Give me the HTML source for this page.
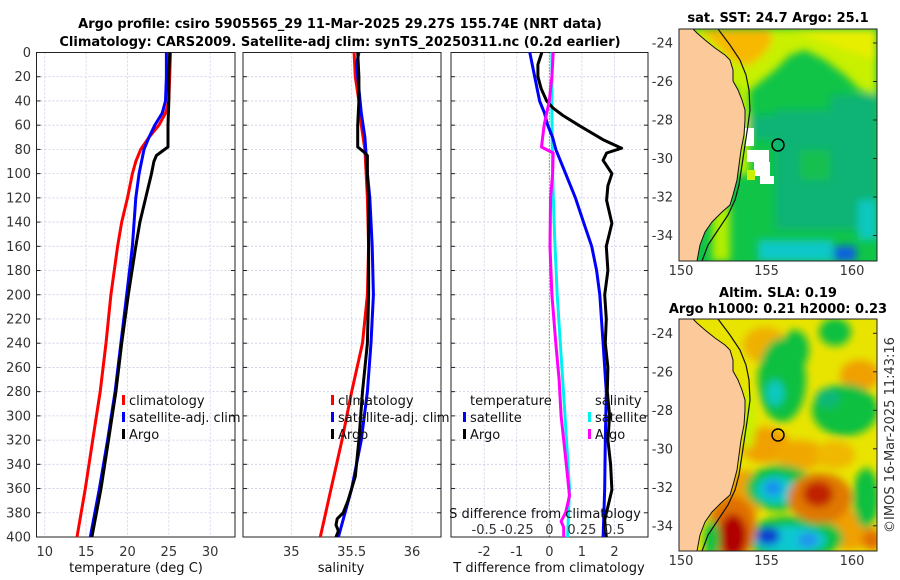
<!DOCTYPE html>
<html><head><meta charset="utf-8">
<style>
html,body{margin:0;padding:0;background:#fff;}
svg{display:block;font-family:"DejaVu Sans","Liberation Sans",sans-serif;}
.tk{font-size:13px;fill:#333;}
.tt{font-size:13px;font-weight:bold;fill:#000;}
.lg{font-size:13px;fill:#111;}
</style></head>
<body>
<svg id="fig" width="900" height="580" viewBox="0 0 900 580" xmlns="http://www.w3.org/2000/svg">
<defs>
<filter id="bl" x="-30%" y="-30%" width="160%" height="160%"><feGaussianBlur stdDeviation="4"/></filter>
<filter id="bl2" x="-20%" y="-20%" width="140%" height="140%"><feGaussianBlur stdDeviation="4"/></filter>
<clipPath id="c1"><rect x="679" y="29" width="198" height="232"/></clipPath>
<clipPath id="c2"><rect x="679" y="319" width="198" height="232"/></clipPath>
</defs>
<text class="tt" x="340" y="28" text-anchor="middle">Argo profile: csiro 5905565_29 11-Mar-2025 29.27S 155.74E (NRT data)</text>
<text class="tt" x="340" y="46" text-anchor="middle">Climatology: CARS2009. Satellite-adj clim: synTS_20250311.nc (0.2d earlier)</text>
<g id="panels"></g>

<!-- SST map -->
<g>
<text class="tt" x="778" y="22" text-anchor="middle">sat. SST: 24.7 Argo: 25.1</text>
<g clip-path="url(#c1)">
<rect x="679" y="29" width="198" height="232" fill="#10c448"/>
<g filter="url(#bl2)">
<polygon points="679,29 877,29 877,95 860,90 845,75 825,60 805,50 790,55 775,70 760,82 748,92 679,70" fill="#c8f000"/>
<polygon points="700,29 770,29 772,42 762,56 748,66 732,60" fill="#f8b800"/>
<polygon points="790,29 877,29 877,60 850,52 820,40" fill="#e8ee00"/>
<rect x="775" y="110" width="102" height="120" fill="#10b474"/>
<rect x="830" y="95" width="47" height="35" fill="#10b474"/>
<rect x="748" y="115" width="28" height="25" fill="#10b474"/>
<rect x="800" y="150" width="30" height="30" fill="#14c050"/>
<rect x="858" y="200" width="19" height="40" fill="#10c8c0"/>
<rect x="758" y="240" width="75" height="21" fill="#10c8c8"/>
<rect x="834" y="246" width="22" height="15" fill="#1060e0"/>
<rect x="737" y="80" width="12" height="95" fill="#c0f000"/>
<rect x="712" y="205" width="18" height="56" fill="#b0ee00"/>
</g>
<rect x="745" y="128" width="9" height="18" fill="#fff"/>
<rect x="747" y="150" width="22" height="12" fill="#fff"/>
<rect x="754" y="162" width="16" height="14" fill="#fff"/>
<rect x="760" y="176" width="14" height="8" fill="#fff"/>
<rect x="747" y="170" width="8" height="10" fill="#c8f000"/>
<polygon points="679,29 693,29 697,33 705,40 715,48 725,55 730,60 733,70 733,81 738,90 742,100 745,110 745,120 744,135 741,150 739,165 737,180 733,195 730,205 722,212 712,222 705,232 700,245 697,261 679,261" fill="#fbc99a" stroke="#111" stroke-width="1"/>
<polyline points="718,29 730,45 740,60 746,75 749,90 750,110 748,125 745,145 742,165 739,185 735,200 728,215 718,230 708,245 702,261" fill="none" stroke="#111" stroke-width="1.2"/>
<circle cx="778" cy="145" r="6" fill="none" stroke="#000" stroke-width="1.5"/>
</g>
<rect x="679" y="29" width="198" height="232" fill="none" stroke="#222" stroke-width="1"/>
</g>

<!-- SLA map -->
<g>
<text class="tt" x="778" y="297" text-anchor="middle">Altim. SLA: 0.19</text>
<text class="tt" x="778" y="313" text-anchor="middle">Argo h1000: 0.21 h2000: 0.23</text>
<g clip-path="url(#c2)">
<rect x="679" y="319" width="198" height="232" fill="#e8e400"/>
<g filter="url(#bl)">
<ellipse cx="765" cy="345" rx="22" ry="18" fill="#f0b000"/>
<ellipse cx="765" cy="445" rx="25" ry="18" fill="#f0a000"/>
<ellipse cx="800" cy="455" rx="25" ry="15" fill="#f0a800"/>
<ellipse cx="860" cy="375" rx="20" ry="15" fill="#f0a000"/>
<ellipse cx="835" cy="455" rx="20" ry="14" fill="#f0b800"/>
<ellipse cx="745" cy="495" rx="18" ry="25" fill="#f0a000"/>
<ellipse cx="850" cy="530" rx="25" ry="20" fill="#f0a000"/>
<ellipse cx="782" cy="380" rx="24" ry="42" fill="#10c040"/>
<ellipse cx="795" cy="350" rx="14" ry="20" fill="#10c040"/>
<ellipse cx="775" cy="393" rx="9" ry="13" fill="#10c8c0"/>
<ellipse cx="845" cy="410" rx="33" ry="26" fill="#10c040"/>
<ellipse cx="828" cy="398" rx="12" ry="10" fill="#10b878"/>
<ellipse cx="835" cy="332" rx="16" ry="14" fill="#10c040"/>
<ellipse cx="866" cy="498" rx="13" ry="30" fill="#10c040"/>
<ellipse cx="780" cy="488" rx="34" ry="23" fill="#10c040"/>
<ellipse cx="776" cy="490" rx="20" ry="14" fill="#10c8c8"/>
<ellipse cx="773" cy="488" rx="9" ry="8" fill="#1890f0"/>
<ellipse cx="793" cy="538" rx="50" ry="22" fill="#10c040"/>
<ellipse cx="790" cy="540" rx="36" ry="14" fill="#10c8d0"/>
<ellipse cx="768" cy="536" rx="12" ry="9" fill="#1040d0"/>
<ellipse cx="808" cy="540" rx="10" ry="7" fill="#2090f0"/>
<ellipse cx="732" cy="528" rx="24" ry="32" fill="#e07000"/>
<ellipse cx="733" cy="536" rx="14" ry="22" fill="#b00000"/>
<ellipse cx="820" cy="498" rx="32" ry="25" fill="#e07800"/>
<ellipse cx="818" cy="494" rx="15" ry="13" fill="#c02000"/>
<ellipse cx="872" cy="540" rx="10" ry="10" fill="#e07000"/>
<ellipse cx="712" cy="540" rx="8" ry="20" fill="#10c040"/>
<ellipse cx="748" cy="420" rx="8" ry="30" fill="#c8f000"/>
</g>
<polygon points="679,319 693,319 697,323 705,330 715,338 725,345 730,350 733,360 733,371 738,380 742,390 745,400 745,410 744,425 741,440 739,455 737,470 733,485 730,495 722,502 712,512 705,522 700,535 697,551 679,551" fill="#fbc99a" stroke="#111" stroke-width="1"/>
<polyline points="718,319 730,335 740,350 746,365 749,380 750,400 748,415 745,435 742,455 739,475 735,490 728,505 718,520 708,535 702,551" fill="none" stroke="#111" stroke-width="1.2"/>
<circle cx="778" cy="435" r="6" fill="none" stroke="#000" stroke-width="1.5"/>
</g>
<rect x="679" y="319" width="198" height="232" fill="none" stroke="#222" stroke-width="1"/>
</g>
<text class="tk" transform="translate(894,435) rotate(-90)" text-anchor="middle">©IMOS 16-Mar-2025 11:43:16</text>
<g id="mapaxes"></g>
</svg>
<script>
// ---- data ----
const depthTClim=[0,20,40,50,60,70,80,90,100,120,140,160,200,240,280,320,360,400];
const tempClim=[25.2,25.1,25.0,24.6,23.8,22.6,21.6,21.0,20.6,20.0,19.3,18.8,18.0,17.4,16.7,15.8,14.9,13.9];
const depthTSat=[0,20,40,50,60,70,80,100,120,160,200,240,280,320,360,400];
const tempSat=[24.7,24.7,24.6,24.2,23.3,22.6,22.0,21.4,21.0,20.6,19.9,19.2,18.5,17.6,16.6,15.5];
const depthTArgo=[0,20,40,60,78,80,85,90,100,120,140,160,200,240,280,320,360,400];
const tempArgo=[25.1,25.0,25.0,24.9,24.9,24.5,23.5,23.2,22.9,22.2,21.5,21.0,20.1,19.3,18.6,17.7,16.8,15.7];

const depthSClim=[0,20,40,60,80,120,160,200,240,280,320,360,400];
const salClim=[35.52,35.53,35.56,35.58,35.61,35.63,35.64,35.63,35.59,35.50,35.42,35.33,35.24];
const depthSSat=[0,10,20,50,70,100,120,160,200,240,280,320,360,400];
const salSat=[35.56,35.54,35.55,35.58,35.61,35.63,35.65,35.67,35.68,35.66,35.63,35.58,35.50,35.39];
const depthSArgo=[0,20,40,60,78,82,85,100,120,160,200,240,280,320,350,370,380,385,390,395,400];
const salArgo=[35.55,35.56,35.56,35.55,35.55,35.60,35.63,35.63,35.64,35.64,35.64,35.63,35.59,35.56,35.53,35.47,35.43,35.38,35.37,35.39,35.37];

const depthDTSat=[0,20,40,50,60,70,80,100,120,140,160,180,200,240,280,320,360,400];
const dTSat=[-0.6,-0.45,-0.3,-0.15,-0.05,0.1,0.2,0.5,0.8,1.05,1.3,1.45,1.55,1.65,1.75,1.72,1.7,1.65];
const depthDTArgo=[0,10,20,30,40,46,52,60,72,79,83,89,100,110,122,141,160,180,200,220,240,260,280,300,320,340,361,375,386,400];
const dTArgo=[-0.23,-0.35,-0.35,-0.25,-0.08,0.12,0.42,0.9,1.65,2.22,1.76,1.65,1.92,1.8,1.76,1.92,1.75,1.8,1.7,1.75,1.72,1.8,1.78,1.85,1.8,1.88,1.92,1.8,1.7,1.75];
const depthDSSat=[0,50,100,150,200,250,300,360,400];
const dSSat=[0.02,0.02,0.025,0.04,0.06,0.09,0.12,0.155,0.14];
const depthDSArgo=[0,20,40,60,78,83,100,120,160,200,240,270,300,340,366,380,387,392,400];
const dSArgo=[0.03,0.02,0.0,-0.04,-0.06,0.03,0.025,0.01,0.005,0.02,0.05,0.075,0.09,0.13,0.155,0.125,0.09,0.11,0.11];

const depthTicks=[0,20,40,60,80,100,120,140,160,180,200,220,240,260,280,300,320,340,360,380,400];
const tempTicks=[10,15,20,25,30];
const salTicks=[35,35.5,36];
const dTTicks=[-2,-1,0,1,2];
const dSTicks=[-0.5,-0.25,0,0.25,0.5];
const dSTickLabels=['-0.5','-0.25','0','0.25','0.5'];
const mapLonTicks=[150,155,160];
const mapLatTicks=[-24,-26,-28,-30,-32,-34];

// ---- drawing ----
const NS='http://www.w3.org/2000/svg';
const g=document.getElementById('panels');
const Y0=52.5,Y1=537;
function yScale(d){return Y0+(d/400)*(Y1-Y0);}
function mk(tag,attrs,parent){const e=document.createElementNS(NS,tag);for(const k in attrs)e.setAttribute(k,attrs[k]);(parent||g).appendChild(e);return e;}
const panels=[
 {x0:36.5,x1:235,d0:9,d1:33,name:'temperature-panel'},
 {x0:243,x1:441,d0:34.6,d1:36.24,name:'salinity-panel'},
 {x0:451,x1:648,d0:-3.02,d1:3.03,name:'difference-panel'}];
function xs(p,v){return p.x0+(v-p.d0)/(p.d1-p.d0)*(p.x1-p.x0);}
function line(p,depths,vals,color,name,mult){
  const pts=depths.map((d,i)=>xs(p,vals[i]*(mult||1)).toFixed(1)+','+yScale(d).toFixed(1)).join(' ');
  const e=mk('polyline',{points:pts,fill:'none',stroke:color,'stroke-width':3,'stroke-linejoin':'round'});
  
  
}
panels.forEach((p,pi)=>{
  const grp=mk('g',{});
  
  
  depthTicks.forEach(d=>{
    if(d>0&&d<400){const l=mk('line',{x1:p.x0,x2:p.x1,y1:yScale(d),y2:yScale(d),stroke:'#c8cce8','stroke-width':0.8,'stroke-dasharray':'2,2'},grp);
    
    }
    const t1=mk('line',{x1:p.x0,x2:p.x0+4,y1:yScale(d),y2:yScale(d),stroke:'#222'},grp);
    
    
    const t2=mk('line',{x1:p.x1-4,x2:p.x1,y1:yScale(d),y2:yScale(d),stroke:'#222'},grp);
    
    
  });
  const ticks=pi==0?tempTicks:pi==1?salTicks:dTTicks;
  ticks.forEach(v=>{
    const x=xs(p,v);
    const l=mk('line',{x1:x,x2:x,y1:Y0,y2:Y1,stroke:'#c8cce8','stroke-width':0.8,'stroke-dasharray':'2,2'},grp);
    
    
    const t=mk('text',{x:x,y:556,'text-anchor':'middle',class:'tk'},grp);t.textContent=String(v);
    
    
  });
  if(pi==2){
    const z=mk('line',{x1:xs(p,0),x2:xs(p,0),y1:Y0,y2:Y1,stroke:'#445522','stroke-width':1,'stroke-dasharray':'1,2'},grp);
    
    
  }
  const fr=mk('rect',{x:p.x0,y:Y0,width:p.x1-p.x0,height:Y1-Y0,fill:'none',stroke:'#222','stroke-width':1},grp);
  
  
});
depthTicks.forEach(d=>{
  const t=mk('text',{x:31,y:yScale(d)+4.5,'text-anchor':'end',class:'tk'});t.textContent=String(d);
  
  
});
line(panels[0],depthTClim,tempClim,'#ff0000','temp-climatology-line');
line(panels[0],depthTSat,tempSat,'#0000ff','temp-satellite-line');
line(panels[0],depthTArgo,tempArgo,'#000000','temp-argo-line');
line(panels[1],depthSClim,salClim,'#ff0000','sal-climatology-line');
line(panels[1],depthSSat,salSat,'#0000ff','sal-satellite-line');
line(panels[1],depthSArgo,salArgo,'#000000','sal-argo-line');
line(panels[2],depthDSSat,dSSat,'#00f0f0','sdiff-satellite-line',4);
line(panels[2],depthDTSat,dTSat,'#0000ff','tdiff-satellite-line');
line(panels[2],depthDTArgo,dTArgo,'#000000','tdiff-argo-line');
line(panels[2],depthDSArgo,dSArgo,'#ff00ff','sdiff-argo-line',4);
dSTicks.forEach((v,i)=>{
  const t=mk('text',{x:xs(panels[2],v*4),y:534,'text-anchor':'middle',class:'tk'});t.textContent=dSTickLabels[i];
  
  
});
function txt(x,y,s,name,anchor,cls){const t=mk('text',{x:x,y:y,'text-anchor':anchor||'start',class:cls||'lg'});t.textContent=s;
  
  return t;}
txt(545,518,'S difference from climatology','s-diff-axis-title','middle');
txt(136,572,'temperature (deg C)','temp-axis-title','middle');
txt(341,572,'salinity','sal-axis-title','middle');
txt(549,572,'T difference from climatology','tdiff-axis-title','middle');
function leg(x,y,color,label,name){
  const m=mk('rect',{x:x,y:y-10,width:3,height:10,fill:color});
  
  
  txt(x+7,y,label,name);
}
leg(122,405,'#ff0000','climatology','legend-temp-climatology');
leg(122,422,'#0000ff','satellite-adj. clim','legend-temp-satellite');
leg(122,439,'#000000','Argo','legend-temp-argo');
leg(331,405,'#ff0000','climatology','legend-sal-climatology');
leg(331,422,'#0000ff','satellite-adj. clim','legend-sal-satellite');
leg(331,439,'#000000','Argo','legend-sal-argo');
txt(470,405,'temperature','legend-temperature-header');
leg(463,422,'#0000ff','satellite','legend-tdiff-satellite');
leg(463,439,'#000000','Argo','legend-tdiff-argo');
txt(595,405,'salinity','legend-salinity-header');
leg(588,422,'#00f0f0','satellite','legend-sdiff-satellite');
leg(588,439,'#ff00ff','Argo','legend-sdiff-argo');
const mg=document.getElementById('mapaxes');
[[29,43,275],[319,333.3,565]].forEach(([top,lat24,ly],mi)=>{
  mapLonTicks.forEach(lon=>{
    const x=681+(lon-150)*17.1;
    const t=mk('text',{x:x,y:ly,'text-anchor':'middle',class:'tk'},mg);t.textContent=String(lon);
    
    
  });
  mapLatTicks.forEach(lat=>{
    const y=lat24+(-24-lat)*19.25;
    const t=mk('text',{x:673,y:y+4.5,'text-anchor':'end',class:'tk'},mg);t.textContent=String(lat);
    
    
    const k=mk('line',{x1:877,x2:873,y1:y,y2:y,stroke:'#222'},mg);
    
    
  });
});
</script>
</body></html>
